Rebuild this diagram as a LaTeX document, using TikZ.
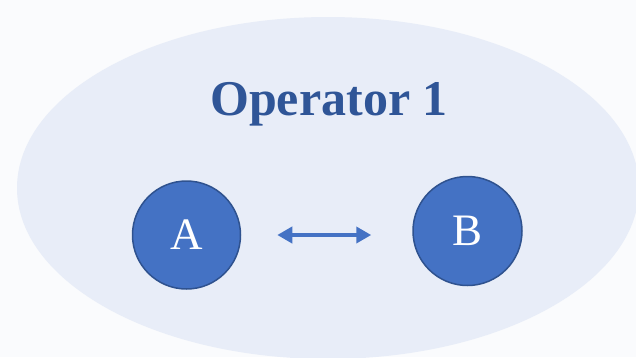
\documentclass[tikz,border=0pt]{standalone}
\usepackage{fontspec}
\setmainfont{Liberation Serif}
\usetikzlibrary{arrows.meta}
\definecolor{pagebg}{HTML}{FAFBFD}
\definecolor{opfill}{HTML}{E8EDF8}
\definecolor{nodefill}{HTML}{4472C4}
\definecolor{nodeline}{HTML}{2F528F}
\definecolor{titleblue}{HTML}{2F5597}
\begin{document}
\begin{tikzpicture}[x=1pt,y=-1pt]
\tikzstyle{every node}+=[inner sep=0pt]
\tikzstyle{party}=[circle, minimum size=108pt, fill=nodefill, draw=nodeline, line width=1.5pt, text=white, font=\fontsize{45}{45}\selectfont]
\useasboundingbox (0,0) rectangle (636,357);
\clip (0,0) rectangle (636,357);
\fill [pagebg] (0,0) rectangle (636,357);
\fill [opfill] (328,188) ellipse (311pt and 171pt);
\node [text=titleblue, font=\fontsize{50}{50}\selectfont\bfseries] (title) at (329,104) {Operator 1};
\node [party] (A) at (186.5,235) {A};
\node [party, minimum size=109pt] (B) at (467.5,231) {B};
\draw [nodefill, line width=4.5pt, {Triangle[length=15pt,width=16pt]}-{Triangle[length=15pt,width=16pt]}, shorten <=36pt, shorten >=41pt] (A.east) -- (A.east -| B.west);
\end{tikzpicture}
\end{document}
